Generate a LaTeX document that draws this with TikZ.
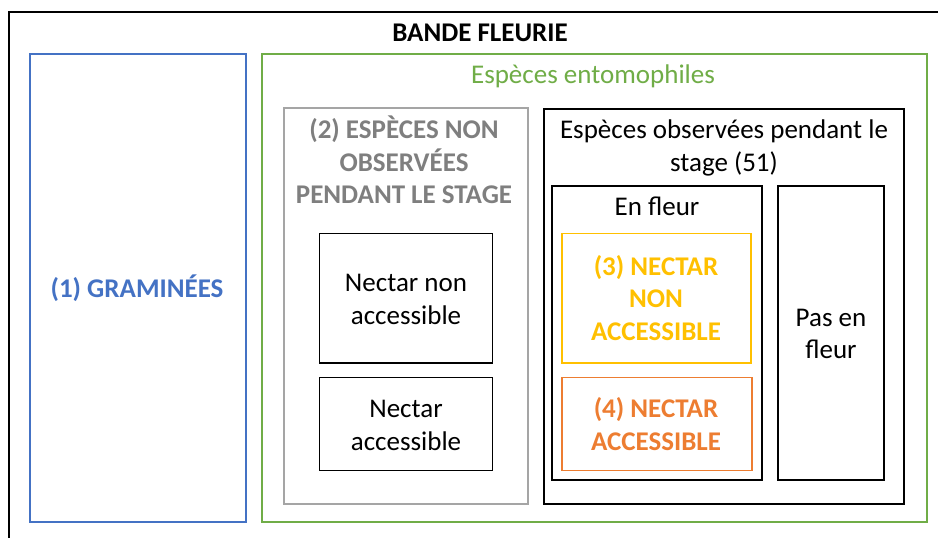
\documentclass[tikz,border=0pt]{standalone}
\usepackage{fontspec}
\setmainfont{Carlito}
\definecolor{cblue}{HTML}{4472C4}
\definecolor{cgreen}{HTML}{70AD47}
\definecolor{cgrayline}{HTML}{A5A5A5}
\definecolor{cgraytext}{HTML}{7F7F7F}
\definecolor{cyellow}{HTML}{FFC000}
\definecolor{corange}{HTML}{ED7D31}
\begin{document}
\begin{tikzpicture}[x=1pt,y=-1pt,
  frame/.style={draw, line width=1.2pt, inner sep=0pt, rectangle},
  lbl/.style={anchor=base, align=center, inner sep=0pt, font=\fontsize{27}{32.3}\selectfont},
  blbl/.style={lbl, font=\fontsize{27}{32.3}\selectfont\bfseries}]
\clip (0,0) rectangle (938,538);
\fill[white] (0,0) rectangle (938,538);
\coordinate (otl) at (8.7,12);
\coordinate (obr) at (960,560);
\draw[line width=1.8pt] (otl) rectangle (obr);
% boxes
\node[frame, draw=cblue, minimum width=216pt, minimum height=468pt] (gram) at (138,288) {};
\node[frame, draw=cgreen, minimum width=665pt, minimum height=468pt] (ento) at (594.5,288) {};
\node[frame, draw=cgrayline, minimum width=244pt, minimum height=396pt] (nonobs) at (406,306) {};
\node[frame, minimum width=360pt, minimum height=395pt] (obs) at (724,306.5) {};
\node[frame, minimum width=210pt, minimum height=294pt] (fleur) at (657,333) {};
\node[frame, minimum width=106pt, minimum height=294pt] (pas) at (831,333) {};
\node[frame, draw=cyellow, minimum width=189pt, minimum height=129.5pt] (n3) at (656.5,298.25) {};
\node[frame, draw=corange, minimum width=190pt, minimum height=93pt] (n4) at (657,424) {};
\node[frame, minimum width=173pt, minimum height=129.5pt] (nna) at (406,298.25) {};
\node[frame, minimum width=173pt, minimum height=93pt] (na) at (406,424) {};
% labels (anchor = baseline of the last line)
\node[blbl] (ttitle) at (480,41.7) {BANDE FLEURIE};
\node[lbl, text=cgreen] (tento) at (593,83) {Espèces entomophiles};
\node[blbl, text=cblue] (tgram) at (137,297) {(1) GRAMINÉES};
\node[blbl, text=cgraytext] (tnonobs) at (404,203.3) {(2) ESPÈCES NON\\OBSERVÉES\\PENDANT LE STAGE};
\node[lbl] (tobs) at (724,171) {Espèces observées pendant le\\stage (51)};
\node[lbl] (tfleur) at (657,215) {En fleur};
\node[lbl] (tpas) at (831,358.3) {Pas en\\fleur};
\node[lbl] (tnna) at (406,324) {Nectar non\\accessible};
\node[lbl] (tna) at (406,450) {Nectar\\accessible};
\node[blbl, text=cyellow] (tn3) at (656,340) {(3) NECTAR\\NON\\ACCESSIBLE};
\node[blbl, text=corange] (tn4) at (656,450) {(4) NECTAR\\ACCESSIBLE};
\end{tikzpicture}
\end{document}
